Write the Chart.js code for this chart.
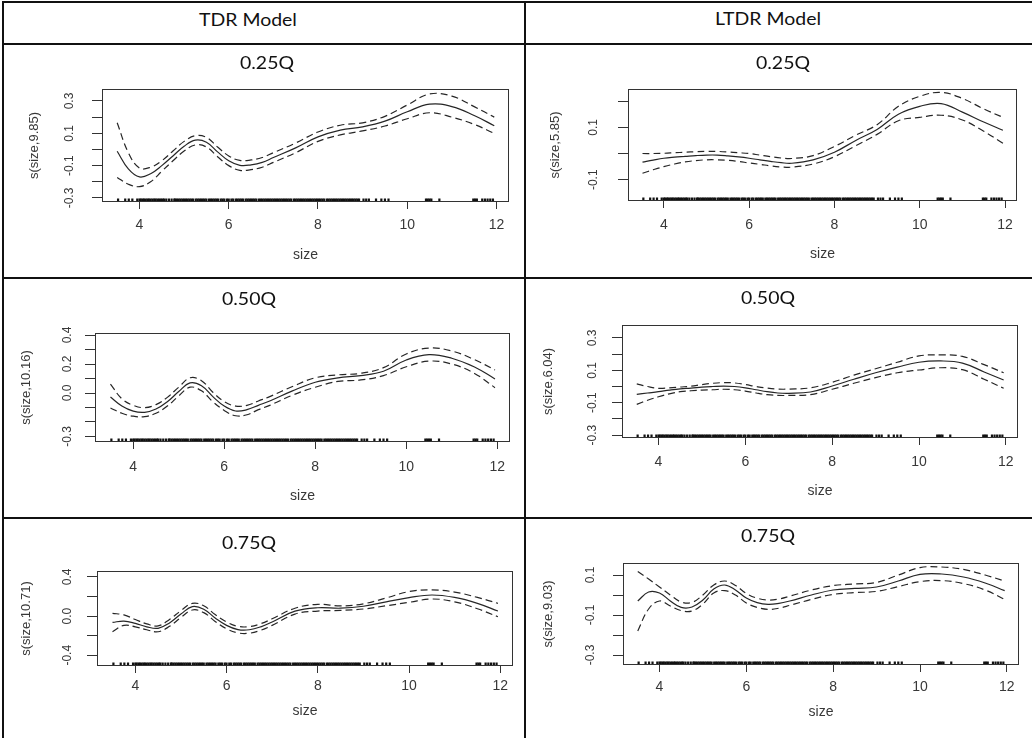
<!DOCTYPE html>
<html>
<head>
<meta charset="utf-8">
<title>Smooth effect of size by quantile</title>
<script src="https://cdn.jsdelivr.net/npm/chart.js@4.4.0/dist/chart.umd.min.js"></script>
<style>
  html, body { margin: 0; padding: 0; background: #fff; }
  #page { position: relative; width: 1032px; height: 738px; overflow: hidden; background: #fff; }
  .rule { position: absolute; background: #111; }
  .cap { position: absolute; width: 240px; text-align: center; font-family: Lato, "Open Sans", sans-serif;
         font-size: 18px; line-height: 23px; color: #111; transform: scaleX(1.08); white-space: nowrap; }
  canvas { position: absolute; }
</style>
</head>
<body>
<div id="page"></div>
<script>
// evaluation grid for the smooth terms
const sizeGrid = [3.5, 3.75, 4, 4.25, 4.5, 4.75, 5, 5.25, 5.5, 5.75, 6, 6.25, 6.5, 6.75, 7, 7.5, 8, 8.5, 9, 9.5, 10, 10.5, 11, 11.5, 11.95];

// observed sizes (rug)
const rugSize = [3.52, 3.68, 3.76, 3.84, 3.95, 4.0, 4.03, 4.07, 4.1, 4.14, 4.18, 4.21, 4.25, 4.29, 4.33, 4.36, 4.4, 4.44,
  4.48, 4.52, 4.55, 4.6, 4.66, 4.72, 4.78, 4.8, 4.84, 4.88, 4.92, 4.96, 5.0, 5.04, 5.08, 5.12, 5.16, 5.2, 5.26, 5.3, 5.34,
  5.38, 5.42, 5.46, 5.5, 5.56, 5.6, 5.64, 5.68, 5.72, 5.76, 5.82, 5.86, 5.9, 5.96, 6.0, 6.06, 6.1, 6.16, 6.2, 6.24, 6.28,
  6.32, 6.38, 6.42, 6.46, 6.5, 6.54, 6.58, 6.62, 6.68, 6.72, 6.76, 6.8, 6.84, 6.88, 6.92, 6.96, 7.0, 7.04, 7.08, 7.12,
  7.16, 7.2, 7.24, 7.28, 7.32, 7.36, 7.4, 7.46, 7.5, 7.54, 7.58, 7.62, 7.66, 7.7, 7.74, 7.78, 7.82, 7.86, 7.9, 7.94, 7.98,
  8.02, 8.06, 8.1, 8.14, 8.2, 8.24, 8.28, 8.32, 8.36, 8.4, 8.44, 8.48, 8.52, 8.56, 8.6, 8.64, 8.68, 8.72, 8.76, 8.8, 8.84,
  8.88, 8.92, 9.02, 9.08, 9.14, 9.3, 9.42, 9.5, 9.58, 10.42, 10.46, 10.5, 10.54, 10.72, 11.48, 11.52, 11.56, 11.68, 11.74,
  11.8, 11.86, 11.92];

const xTicks = [4, 6, 8, 10, 12];
const xTickLabels = ['4', '6', '8', '10', '12'];

// TDR model
const tdr25Fit   = [-0.011, -0.12, -0.17, -0.15, -0.1, -0.04, 0.02, 0.058, 0.045, -0.015, -0.07, -0.098, -0.095, -0.08, -0.05, 0.01, 0.078, 0.12, 0.14, 0.175, 0.233, 0.28, 0.265, 0.21, 0.147];
const tdr25Upper = [0.165, -0.02, -0.115, -0.11, -0.07, -0.01, 0.05, 0.085, 0.075, 0.015, -0.04, -0.068, -0.065, -0.05, -0.02, 0.04, 0.108, 0.15, 0.165, 0.205, 0.275, 0.343, 0.33, 0.265, 0.2];
const tdr25Lower = [-0.173, -0.215, -0.23, -0.2, -0.135, -0.07, -0.01, 0.028, 0.015, -0.045, -0.1, -0.129, -0.125, -0.11, -0.08, -0.02, 0.05, 0.09, 0.115, 0.145, 0.19, 0.227, 0.2, 0.155, 0.1];
const tdr25YTicks = [-0.3, -0.2, -0.1, 0, 0.1, 0.2, 0.3];
const tdr25YLabels = ['-0.3', '', '-0.1', '', '0.1', '', '0.3'];

const tdr50Fit   = [-0.028, -0.09, -0.125, -0.133, -0.11, -0.06, 0.01, 0.07, 0.05, -0.025, -0.09, -0.124, -0.115, -0.085, -0.055, 0.015, 0.074, 0.105, 0.12, 0.15, 0.228, 0.265, 0.24, 0.18, 0.097];
const tdr50Upper = [0.062, -0.04, -0.085, -0.101, -0.08, -0.03, 0.04, 0.105, 0.085, 0.005, -0.06, -0.09, -0.085, -0.055, -0.025, 0.045, 0.105, 0.125, 0.136, 0.175, 0.269, 0.31, 0.29, 0.23, 0.159];
const tdr50Lower = [-0.103, -0.14, -0.16, -0.163, -0.14, -0.09, -0.02, 0.04, 0.015, -0.06, -0.12, -0.157, -0.15, -0.115, -0.085, -0.015, 0.04, 0.08, 0.09, 0.12, 0.181, 0.22, 0.2, 0.135, 0.037];
const tdr50YTicks = [-0.3, -0.2, -0.1, 0, 0.1, 0.2, 0.3, 0.4];
const tdr50YLabels = ['-0.3', '', '', '0.0', '', '0.2', '', '0.4'];

const tdr75Fit   = [-0.065, -0.052, -0.075, -0.11, -0.125, -0.07, 0.02, 0.096, 0.07, -0.02, -0.095, -0.138, -0.14, -0.11, -0.06, 0.05, 0.085, 0.08, 0.1, 0.145, 0.188, 0.215, 0.19, 0.13, 0.051];
const tdr75Upper = [0.028, 0.012, -0.035, -0.08, -0.1, -0.035, 0.055, 0.13, 0.105, 0.015, -0.06, -0.105, -0.108, -0.078, -0.028, 0.08, 0.12, 0.103, 0.125, 0.185, 0.25, 0.267, 0.245, 0.19, 0.13];
const tdr75Lower = [-0.16, -0.095, -0.11, -0.14, -0.16, -0.105, -0.015, 0.062, 0.035, -0.055, -0.13, -0.172, -0.175, -0.145, -0.095, 0.02, 0.051, 0.058, 0.072, 0.105, 0.14, 0.174, 0.145, 0.075, -0.007];
const tdr75YTicks = [-0.4, -0.2, 0, 0.2, 0.4];
const tdr75YLabels = ['-0.4', '', '0.0', '', '0.4'];

// LTDR model
const ltdr25Fit   = [-0.033, -0.025, -0.018, -0.014, -0.011, -0.008, -0.006, -0.006, -0.009, -0.013, -0.018, -0.024, -0.03, -0.035, -0.037, -0.024, 0.005, 0.05, 0.092, 0.15, 0.18, 0.19, 0.158, 0.12, 0.089];
const ltdr25Upper = [0.0, 0.0, 0.001, 0.003, 0.005, 0.007, 0.008, 0.008, 0.006, 0.003, 0.0, -0.006, -0.012, -0.017, -0.019, -0.008, 0.027, 0.07, 0.11, 0.18, 0.218, 0.233, 0.21, 0.17, 0.138];
const ltdr25Lower = [-0.075, -0.062, -0.05, -0.04, -0.032, -0.027, -0.024, -0.024, -0.026, -0.03, -0.036, -0.041, -0.047, -0.051, -0.052, -0.04, -0.012, 0.03, 0.073, 0.125, 0.138, 0.146, 0.128, 0.085, 0.039];
const ltdr25YTicks = [-0.1, 0, 0.1, 0.2];
const ltdr25YLabels = ['-0.1', '', '0.1', ''];

const ltdr50Fit   = [-0.048, -0.04, -0.032, -0.022, -0.014, -0.01, -0.004, 0.0, 0.003, 0.0, -0.008, -0.02, -0.032, -0.04, -0.042, -0.034, 0.003, 0.045, 0.085, 0.12, 0.15, 0.158, 0.145, 0.09, 0.04];
const ltdr50Upper = [0.016, 0.0, -0.011, -0.008, -0.003, 0.002, 0.012, 0.02, 0.024, 0.022, 0.012, 0.0, -0.01, -0.016, -0.016, -0.008, 0.026, 0.07, 0.11, 0.15, 0.189, 0.195, 0.186, 0.135, 0.085];
const ltdr50Lower = [-0.11, -0.085, -0.063, -0.045, -0.032, -0.026, -0.022, -0.02, -0.017, -0.02, -0.028, -0.04, -0.05, -0.055, -0.055, -0.05, -0.017, 0.02, 0.055, 0.085, 0.102, 0.116, 0.104, 0.045, -0.011];
const ltdr50YTicks = [-0.3, -0.2, -0.1, 0, 0.1, 0.2, 0.3];
const ltdr50YLabels = ['-0.3', '', '-0.1', '', '0.1', '', '0.3'];

const ltdr75Fit   = [-0.03, 0.015, 0.01, -0.03, -0.062, -0.06, -0.025, 0.03, 0.05, 0.025, -0.015, -0.038, -0.047, -0.042, -0.03, 0.0, 0.025, 0.033, 0.04, 0.07, 0.103, 0.105, 0.09, 0.06, 0.022];
const ltdr75Upper = [0.117, 0.08, 0.04, 0.0, -0.035, -0.037, 0.0, 0.05, 0.07, 0.048, 0.008, -0.016, -0.025, -0.02, -0.006, 0.025, 0.047, 0.055, 0.063, 0.1, 0.137, 0.14, 0.128, 0.1, 0.07];
const ltdr75Lower = [-0.18, -0.07, -0.03, -0.055, -0.078, -0.08, -0.045, 0.01, 0.022, 0.0, -0.04, -0.062, -0.072, -0.066, -0.052, -0.022, 0.003, 0.012, 0.018, 0.042, 0.067, 0.072, 0.057, 0.025, -0.022];
const ltdr75YTicks = [-0.3, -0.2, -0.1, 0, 0.1];
const ltdr75YLabels = ['-0.3', '', '-0.1', '', '0.1'];

const X_MIN = 3.16, X_MAX = 12.28;
const INK = '#262626';
const AXIS_FONT = '"Liberation Sans", Arial, sans-serif';

// box = plot frame in page pixels, off = label offsets from the frame
const panels = [
  { fit: tdr25Fit, upper: tdr25Upper, lower: tdr25Lower, yTicks: tdr25YTicks, yLabels: tdr25YLabels,
    yTitle: 's(size,9.85)', yMin: -0.325, yMax: 0.374,
    box: { l: 102, t: 89, r: 509, b: 202 }, off: { ytl: 32, ytt: 67, xtl: 23, xtt: 54 } },
  { fit: ltdr25Fit, upper: ltdr25Upper, lower: ltdr25Lower, yTicks: ltdr25YTicks, yLabels: ltdr25YLabels,
    yTitle: 's(size,5.85)', yMin: -0.181, yMax: 0.246,
    box: { l: 628, t: 89, r: 1017, b: 201 }, off: { ytl: 34, ytt: 72, xtl: 24, xtt: 54 } },
  { fit: tdr50Fit, upper: tdr50Upper, lower: tdr50Lower, yTicks: tdr50YTicks, yLabels: tdr50YLabels,
    yTitle: 's(size,10.16)', yMin: -0.338, yMax: 0.414,
    box: { l: 95, t: 333, r: 510, b: 442 }, off: { ytl: 27, ytt: 68, xtl: 25, xtt: 55 } },
  { fit: ltdr50Fit, upper: ltdr50Upper, lower: ltdr50Lower, yTicks: ltdr50YTicks, yLabels: ltdr50YLabels,
    yTitle: 's(size,6.04)', yMin: -0.318, yMax: 0.38,
    box: { l: 622, t: 325, r: 1018, b: 438 }, off: { ytl: 29, ytt: 73, xtl: 24, xtt: 54 } },
  { fit: tdr75Fit, upper: tdr75Upper, lower: tdr75Lower, yTicks: tdr75YTicks, yLabels: tdr75YLabels,
    yTitle: 's(size,10.71)', yMin: -0.51, yMax: 0.46,
    box: { l: 97, t: 571, r: 513, b: 666 }, off: { ytl: 29, ytt: 70, xtl: 20, xtt: 46 } },
  { fit: ltdr75Fit, upper: ltdr75Upper, lower: ltdr75Lower, yTicks: ltdr75YTicks, yLabels: ltdr75YLabels,
    yTitle: 's(size,9.03)', yMin: -0.35, yMax: 0.16,
    box: { l: 623, t: 563, r: 1019, b: 665 }, off: { ytl: 32, ytt: 74, xtl: 22, xtt: 48 } }
];

const page = document.getElementById('page');

// table rules
[
  [2, 1, 1030, 2], [2, 1, 2, 737], [524, 1, 2, 737],
  [2, 43, 1030, 2], [2, 277, 1030, 2], [2, 517, 1030, 2]
].forEach(([x, y, w, h]) => {
  const d = document.createElement('div');
  d.className = 'rule';
  d.style.cssText = `left:${x}px;top:${y}px;width:${w}px;height:${h}px`;
  page.appendChild(d);
});

const frame = {
  id: 'frame',
  afterDatasetsDraw(chart) {
    const { ctx, chartArea: a } = chart;
    ctx.save();
    ctx.strokeStyle = '#333';
    ctx.lineWidth = 1;
    ctx.strokeRect(Math.round(a.left) + 0.5, Math.round(a.top) + 0.5,
      Math.round(a.right - a.left) - 1, Math.round(a.bottom - a.top) - 1);
    ctx.restore();
  }
};

const measure = document.createElement('canvas').getContext('2d');
const Y_TICK_SIZE = 12, Y_TITLE_SIZE = 13, X_SIZE = 14;
const Y_TL = 10, X_TL = 7;

function line(values, dashed) {
  return {
    data: sizeGrid.map((x, i) => ({ x, y: values[i] })),
    borderColor: INK,
    borderWidth: 1.2,
    borderDash: dashed ? [7, 4] : [],
    pointRadius: 0,
    tension: 0.4,
    fill: false
  };
}

panels.forEach(p => {
  const W = Math.round(p.off.ytt + Y_TITLE_SIZE * 0.6);
  const H = Math.round(p.off.xtt + X_SIZE * 0.6);
  const left = p.box.l - W - 4, top = p.box.t - 28;
  const width = p.box.r + 18 - left, height = p.box.b + H + 4 - top;

  const cv = document.createElement('canvas');
  cv.width = width; cv.height = height;
  cv.style.left = left + 'px'; cv.style.top = top + 'px';
  cv.style.width = width + 'px'; cv.style.height = height + 'px';
  page.appendChild(cv);

  measure.font = `${Y_TICK_SIZE}px ${AXIS_FONT}`;
  const widest = Math.max(...p.yLabels.map(s => measure.measureText(s).width));
  const yPad = p.off.ytl - Y_TL - widest / 2;
  const xPad = p.off.xtl - X_TL - X_SIZE * 0.6;

  new Chart(cv, {
    type: 'line',
    data: {
      datasets: [
        line(p.fit, false),
        line(p.upper, true),
        line(p.lower, true),
        {
          type: 'scatter',
          data: rugSize.map(x => ({ x, y: p.yMin })),
          showLine: false,
          pointStyle: 'line',
          rotation: 90,
          pointRadius: 3.5,
          pointBorderWidth: 2.2,
          pointBorderColor: '#111',
          borderColor: '#111',
          clip: 0
        }
      ]
    },
    options: {
      responsive: false,
      animation: false,
      devicePixelRatio: 1,
      layout: { padding: { left: 4, top: 28, right: 18, bottom: 4 } },
      plugins: { legend: { display: false }, tooltip: { enabled: false } },
      scales: {
        x: {
          type: 'linear',
          min: X_MIN, max: X_MAX,
          afterBuildTicks: s => { s.ticks = xTicks.map(v => ({ value: v })); },
          afterFit: s => { s.height = H; },
          border: { display: false },
          grid: { drawOnChartArea: false, drawTicks: true, tickLength: X_TL, color: '#333' },
          ticks: {
            autoSkip: false, maxRotation: 0, padding: xPad, color: '#383838',
            font: { family: AXIS_FONT, size: X_SIZE },
            callback: (v, i) => xTickLabels[i]
          },
          title: { display: true, text: 'size', color: '#383838', padding: 0,
                   font: { family: AXIS_FONT, size: X_SIZE } }
        },
        y: {
          min: p.yMin, max: p.yMax,
          afterBuildTicks: s => { s.ticks = p.yTicks.map(v => ({ value: v })); },
          afterFit: s => { s.width = W; },
          border: { display: false },
          grid: { drawOnChartArea: false, drawTicks: true, tickLength: Y_TL, color: '#333' },
          ticks: {
            autoSkip: false, minRotation: 90, maxRotation: 90, crossAlign: 'center',
            padding: yPad, color: '#383838',
            font: { family: AXIS_FONT, size: Y_TICK_SIZE },
            callback: (v, i) => p.yLabels[i]
          },
          title: { display: true, text: p.yTitle, color: '#383838', padding: 0,
                   font: { family: AXIS_FONT, size: Y_TITLE_SIZE } }
        }
      }
    },
    plugins: [frame]
  });
});

// header and quantile captions
[
  ['TDR Model', 248, 19], ['LTDR Model', 768, 18],
  ['0.25Q', 267, 62], ['0.25Q', 783, 62],
  ['0.50Q', 249, 298], ['0.50Q', 768, 297],
  ['0.75Q', 249, 542], ['0.75Q', 768, 535]
].forEach(([text, cx, cy]) => {
  const d = document.createElement('div');
  d.className = 'cap';
  d.textContent = text;
  d.style.left = (cx - 120) + 'px';
  d.style.top = (cy - 11.5) + 'px';
  page.appendChild(d);
});
</script>
</body>
</html>
